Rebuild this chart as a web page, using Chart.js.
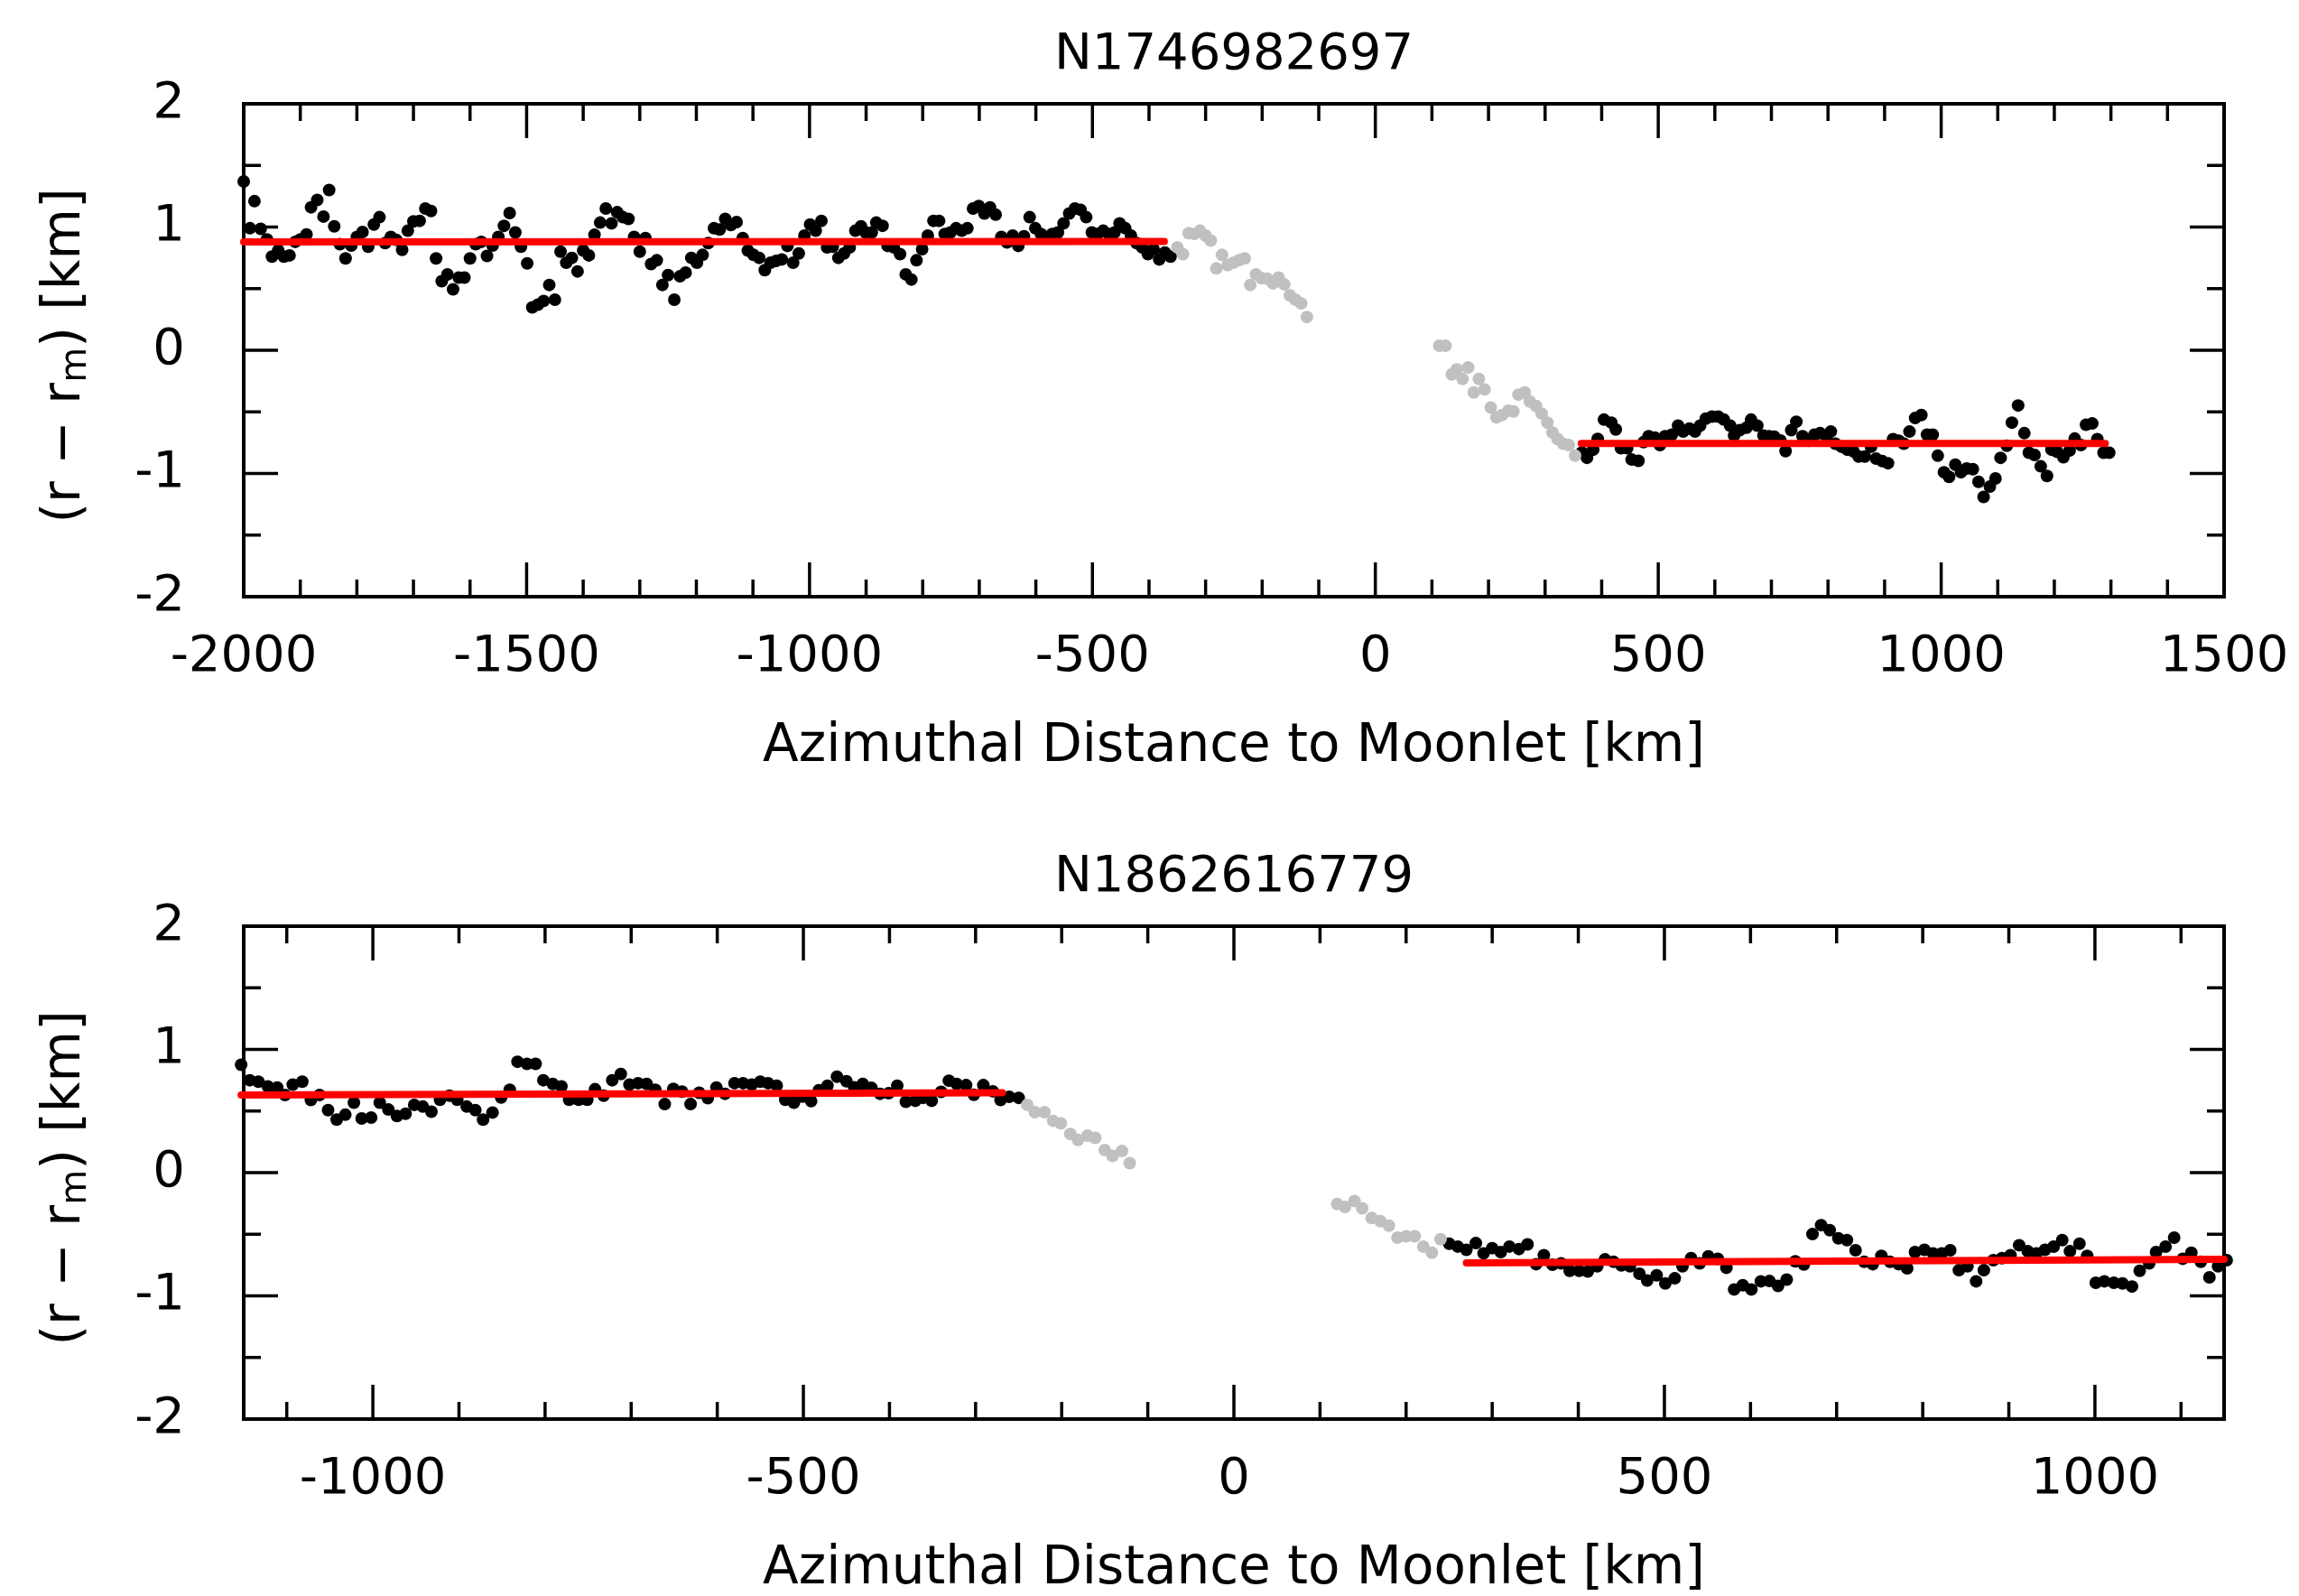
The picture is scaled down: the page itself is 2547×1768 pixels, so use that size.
<!DOCTYPE html>
<html>
<head>
<meta charset="utf-8">
<title>Radial offset vs azimuthal distance to moonlet</title>
<script src="https://cdn.jsdelivr.net/npm/chart.js@4.4.1/dist/chart.umd.min.js"></script>
<style>
  html, body { margin: 0; padding: 0; background: #fff; }
  .panel { position: absolute; left: 0; width: 2547px; height: 857px; }
  #panelTop { top: 0; }
  #panelBottom { top: 911px; }
</style>
</head>
<body>
<div class="panel" id="panelTop"><canvas id="chartTop"></canvas></div>
<div class="panel" id="panelBottom"><canvas id="chartBottom"></canvas></div>
<script>
// ---- data: [azimuthal distance km, r - r_m km] ----

// N1746982697
const topTitle = 'N1746982697';
const topXTicks = [-2000, -1500, -1000, -500, 0, 500, 1000, 1500];
const topLeftPts = [
  [-2000,1.37],[-1989,0.99],[-1981,1.21],[-1970,0.985],[-1959,0.90],[-1950,0.76],[-1939,0.81],[-1929,0.76],
  [-1919,0.77],[-1909,0.88],[-1900,0.90],[-1889,0.94],[-1881,1.16],[-1870,1.22],[-1859,1.085],[-1849,1.30],
  [-1840,1.005],[-1830,0.86],[-1820,0.745],[-1810,0.85],[-1800,0.92],[-1790,0.96],[-1780,0.84],[-1770,1.02],
  [-1760,1.08],[-1750,0.87],[-1740,0.92],[-1730,0.895],[-1720,0.815],[-1710,0.97],[-1700,1.046],[-1689,1.05],
  [-1679,1.15],[-1669,1.13],[-1660,0.745],[-1650,0.56],[-1640,0.615],[-1630,0.494],[-1620,0.59],[-1610,0.59],
  [-1600,0.745],[-1590,0.86],[-1580,0.88],[-1570,0.766],[-1560,0.85],[-1550,0.92],[-1540,1.01],[-1530,1.114],
  [-1520,0.956],[-1510,0.84],[-1499,0.705],[-1490,0.348],[-1480,0.37],[-1470,0.40],[-1460,0.53],[-1450,0.41],
  [-1440,0.80],[-1430,0.71],[-1420,0.75],[-1410,0.64],[-1400,0.81],[-1390,0.77],[-1380,0.937],[-1370,1.036],
  [-1360,1.15],[-1350,1.03],[-1340,1.12],[-1330,1.08],[-1320,1.066],[-1310,0.92],[-1300,0.80],[-1290,0.91],
  [-1280,0.70],[-1270,0.73],[-1260,0.53],[-1250,0.61],[-1239,0.41],[-1229,0.60],[-1219,0.63],[-1209,0.75],
  [-1199,0.71],[-1189,0.774],[-1179,0.87],[-1169,0.99],[-1159,0.98],[-1149,1.066],[-1139,1.017],[-1129,1.04],
  [-1118,0.91],[-1109,0.81],[-1099,0.774],[-1089,0.75],[-1079,0.65],[-1069,0.71],[-1059,0.725],[-1049,0.737],
  [-1039,0.847],[-1029,0.71],[-1019,0.786],[-1009,0.93],[-999,1.02],[-989,0.97],[-979,1.05],[-969,0.835],
  [-959,0.84],[-949,0.75],[-939,0.786],[-929,0.835],[-919,0.97],[-909,1.005],[-901,0.956],[-890,0.956],
  [-882,1.036],[-871,1.01],[-862,0.847],[-851,0.835],[-840,0.78],[-830,0.616],[-820,0.574],[-811,0.73],
  [-801,0.82],[-791,0.93],[-781,1.05],[-771,1.05],[-761,0.944],[-751,0.956],[-741,0.99],[-731,0.97],
  [-721,0.99],[-711,1.15],[-701,1.17],[-691,1.11],[-681,1.16],[-671,1.10],[-661,0.92],[-651,0.876],
  [-641,0.93],[-631,0.847],[-621,0.925],[-611,1.08],[-601,0.99],[-591,0.944],[-581,0.92],[-571,0.944],
  [-561,0.956],[-551,1.03],[-541,1.11],[-531,1.15],[-521,1.14],[-511,1.08],[-501,0.956],[-491,0.944],
  [-481,0.97],[-471,0.944],[-461,0.956],[-452,1.03],[-442,0.99],[-432,0.93],[-422,0.87],[-412,0.835],
  [-402,0.78],[-392,0.82],[-382,0.737],[-372,0.793],[-362,0.76]
];
const topGrayLeftPts = [
  [-350,0.835],[-340,0.78],[-330,0.95],[-320,0.944],[-310,0.97],[-300,0.93],[-291,0.89],[-281,0.664],
  [-271,0.774],[-261,0.69],[-251,0.71],[-241,0.73],[-231,0.745],[-221,0.53],[-211,0.616],[-201,0.584],
  [-191,0.58],[-181,0.543],[-171,0.59],[-161,0.535],[-151,0.445],[-141,0.41],[-131,0.38],[-121,0.27]
];
const topGrayRightPts = [
  [113,0.036],[124,0.036],[135,-0.196],[144,-0.155],[154,-0.233],[164,-0.14],[174,-0.343],[183,-0.233],
  [193,-0.318],[204,-0.465],[214,-0.545],[224,-0.526],[235,-0.49],[244,-0.496],[253,-0.36],[264,-0.343],
  [273,-0.416],[284,-0.452],[294,-0.514],[304,-0.587],[313,-0.667],[322,-0.72],[332,-0.758],[342,-0.77],
  [353,-0.855]
];
const topRightPts = [
  [365,-0.83],[374,-0.873],[385,-0.807],[393,-0.72],[404,-0.563],[417,-0.587],[425,-0.643],[434,-0.795],
  [445,-0.795],[453,-0.887],[465,-0.897],[474,-0.746],[483,-0.697],[494,-0.709],[503,-0.77],[512,-0.697],
  [524,-0.685],[535,-0.612],[544,-0.66],[555,-0.636],[565,-0.66],[574,-0.612],[584,-0.555],[595,-0.538],
  [606,-0.538],[616,-0.563],[627,-0.612],[634,-0.692],[644,-0.648],[656,-0.628],[664,-0.563],[675,-0.612],
  [686,-0.692],[696,-0.697],[705,-0.702],[716,-0.733],[725,-0.819],[735,-0.648],[744,-0.58],[755,-0.697],
  [765,-0.734],[776,-0.685],[786,-0.673],[797,-0.697],[805,-0.66],[813,-0.758],[824,-0.783],[834,-0.807],
  [845,-0.82],[854,-0.863],[865,-0.863],[876,-0.783],[885,-0.88],[896,-0.90],[906,-0.917],[915,-0.722],
  [925,-0.734],[934,-0.758],[944,-0.66],[954,-0.55],[965,-0.526],[975,-0.685],[985,-0.685],[994,-0.856],
  [1005,-0.99],[1014,-1.027],[1025,-0.929],[1035,-0.99],[1045,-0.96],[1056,-0.965],[1066,-1.068],[1075,-1.19],
  [1086,-1.107],[1096,-1.04],[1105,-0.873],[1116,-0.775],[1125,-0.587],[1136,-0.448],[1147,-0.673],[1155,-0.832],
  [1165,-0.85],[1176,-0.942],[1187,-1.02],[1195,-0.807],[1205,-0.824],[1216,-0.868],[1227,-0.814],[1236,-0.717],
  [1247,-0.77],[1256,-0.604],[1267,-0.594],[1276,-0.722],[1287,-0.832],[1297,-0.832]
];
const topFitLeft = [[-2000,0.88],[-373,0.882]];
const topFitRight = [[364,-0.757],[1290,-0.757]];

// N1862616779
const bottomTitle = 'N1862616779';
const bottomXTicks = [-1000, -500, 0, 500, 1000];
const bottomLeftPts = [
  [-1153,0.876],[-1143,0.75],[-1133,0.738],[-1122,0.70],[-1111,0.69],[-1102,0.63],[-1093,0.714],[-1082,0.738],
  [-1072,0.59],[-1062,0.63],[-1052,0.507],[-1042,0.43],[-1032,0.47],[-1022,0.568],[-1013,0.44],[-1002,0.447],
  [-992,0.568],[-982,0.512],[-972,0.459],[-962,0.478],[-952,0.55],[-942,0.536],[-932,0.495],[-922,0.592],
  [-911,0.624],[-902,0.592],[-891,0.536],[-881,0.507],[-872,0.43],[-861,0.488],[-851,0.61],[-841,0.672],
  [-832,0.90],[-821,0.883],[-811,0.883],[-802,0.75],[-791,0.72],[-781,0.70],[-772,0.592],[-761,0.592],
  [-751,0.592],[-742,0.677],[-732,0.624],[-722,0.75],[-712,0.80],[-702,0.714],[-692,0.726],[-682,0.72],
  [-672,0.672],[-661,0.556],[-651,0.68],[-641,0.658],[-631,0.556],[-621,0.648],[-611,0.604],[-601,0.69],
  [-591,0.64],[-580,0.726],[-570,0.726],[-560,0.714],[-550,0.738],[-541,0.726],[-531,0.706],[-521,0.592],
  [-511,0.568],[-501,0.617],[-491,0.58],[-482,0.668],[-472,0.705],[-461,0.778],[-450,0.742],[-441,0.693],
  [-431,0.72],[-421,0.688],[-411,0.64],[-401,0.644],[-391,0.705],[-381,0.575],[-370,0.583],[-361,0.607],
  [-351,0.583],[-340,0.656],[-331,0.746],[-322,0.72],[-311,0.71],[-302,0.632],[-291,0.71],[-280,0.66],
  [-271,0.59],[-261,0.615],[-250,0.607]
];
const bottomGrayLeftPts = [
  [-240,0.55],[-231,0.49],[-220,0.49],[-210,0.42],[-201,0.40],[-190,0.314],[-181,0.265],[-170,0.30],
  [-161,0.282],[-150,0.184],[-141,0.136],[-130,0.175],[-121,0.077]
];
const bottomGrayRightPts = [
  [120,-0.255],[129,-0.279],[140,-0.23],[149,-0.289],[160,-0.369],[170,-0.394],[180,-0.43],[190,-0.528],
  [200,-0.516],[210,-0.516],[220,-0.60],[230,-0.65],[240,-0.54]
];
const bottomRightPts = [
  [250,-0.577],[260,-0.60],[270,-0.626],[281,-0.572],[290,-0.655],[300,-0.613],[310,-0.645],[320,-0.60],
  [331,-0.62],[341,-0.582],[351,-0.743],[360,-0.67],[370,-0.748],[380,-0.736],[390,-0.797],[401,-0.797],
  [411,-0.802],[422,-0.76],[431,-0.704],[441,-0.724],[450,-0.753],[460,-0.76],[471,-0.82],[480,-0.875],
  [491,-0.833],[501,-0.90],[512,-0.858],[521,-0.76],[531,-0.694],[541,-0.736],[551,-0.68],[562,-0.70],
  [572,-0.772],[581,-0.948],[591,-0.914],[601,-0.948],[612,-0.882],[622,-0.88],[632,-0.919],[642,-0.868],
  [652,-0.72],[662,-0.745],[672,-0.499],[682,-0.426],[692,-0.467],[702,-0.533],[712,-0.548],[722,-0.63],
  [732,-0.724],[742,-0.743],[752,-0.675],[762,-0.724],[772,-0.743],[782,-0.777],[791,-0.645],[802,-0.626],
  [812,-0.655],[822,-0.655],[832,-0.63],[842,-0.792],[852,-0.76],[862,-0.882],[871,-0.792],[882,-0.711],
  [892,-0.694],[902,-0.67],[912,-0.589],[922,-0.638],[932,-0.655],[942,-0.626],[952,-0.601],[962,-0.548],
  [971,-0.638],[982,-0.577],[991,-0.675],[1001,-0.894],[1011,-0.882],[1022,-0.894],[1032,-0.899],[1043,-0.924],
  [1052,-0.797],[1063,-0.736],[1071,-0.645],[1082,-0.601],[1092,-0.528],[1102,-0.699],[1112,-0.65],[1123,-0.724],
  [1133,-0.85],[1143,-0.76],[1153,-0.711]
];
const bottomFitLeft = [[-1153,0.630],[-269,0.648]];
const bottomFitRight = [[270,-0.733],[1150,-0.703]];

const yTicks = [-2, -1, 0, 1, 2];

// ---- styling ----
const FONT = '"DejaVu Sans", sans-serif';
const BLACK = '#000000';
const GRAY = '#c0c0c0';
const RED = '#ff0000';

const toXY = pts => pts.map(p => ({ x: p[0], y: p[1] }));

function pointSet(pts, color, order) {
    return { type: 'scatter', data: toXY(pts), pointRadius: 7, pointHoverRadius: 7,
             pointBackgroundColor: color, pointBorderWidth: 0, clip: false, order: order };
}
function fitSet(pts) {
    return { type: 'line', data: toXY(pts), borderColor: RED, borderWidth: 8, borderCapStyle: 'round',
             pointRadius: 0, fill: false, clip: false, order: 0 };
}

// frame + inward major/minor ticks on all four sides, titles
const framePlugin = {
    id: 'frame',
    beforeDatasetsDraw(chart, args, opts) {
        const { ctx, chartArea: a, scales: { x, y } } = chart;
        ctx.save();
        ctx.strokeStyle = BLACK;
        ctx.lineWidth = 3.5;
        ctx.lineCap = 'butt';
        const tick = (px, py, dx, dy) => { ctx.beginPath(); ctx.moveTo(px, py); ctx.lineTo(px + dx, py + dy); ctx.stroke(); };
        for (let v = Math.ceil(x.min / 100) * 100; v <= x.max; v += 100) {
            const len = opts.xTicks.includes(v) ? 38 : 19;
            const px = x.getPixelForValue(v);
            tick(px, a.bottom, 0, -len);
            tick(px, a.top, 0, len);
        }
        for (let v = y.min; v <= y.max + 1e-9; v += 0.5) {
            const len = Number.isInteger(v) ? 38 : 19;
            const py = y.getPixelForValue(v);
            tick(a.left, py, len, 0);
            tick(a.right, py, -len, 0);
        }
        ctx.lineWidth = 4;
        ctx.strokeRect(a.left, a.top, a.right - a.left, a.bottom - a.top);
        ctx.restore();
    },
    afterDraw(chart, args, opts) {
        const { ctx, chartArea: a } = chart;
        const cx = (a.left + a.right) / 2;
        ctx.save();
        ctx.fillStyle = BLACK;
        ctx.textAlign = 'center';
        ctx.textBaseline = 'middle';
        ctx.font = `56px ${FONT}`;
        ctx.fillText(opts.title, cx, a.top - 54);
        ctx.font = `58px ${FONT}`;
        ctx.fillText('Azimuthal Distance to Moonlet [km]', cx, a.bottom + 167);

        // rotated y title with subscript m
        ctx.translate(73, (a.top + a.bottom) / 2 + 6);
        ctx.rotate(-Math.PI / 2);
        ctx.textAlign = 'left';
        const parts = [['(r \u2212 r', `58px ${FONT}`, 0], ['m', `40px ${FONT}`, 12], [') [km]', `58px ${FONT}`, 0]];
        let total = 0;
        parts.forEach(p => { ctx.font = p[1]; total += ctx.measureText(p[0]).width; });
        let tx = -total / 2;
        parts.forEach(p => { ctx.font = p[1]; ctx.fillText(p[0], tx, p[2]); tx += ctx.measureText(p[0]).width; });
        ctx.restore();
    }
};

function makeChart(id, cfg) {
    return new Chart(document.getElementById(id), {
        type: 'scatter',
        data: { datasets: [
            fitSet(cfg.fitLeft), fitSet(cfg.fitRight),
            pointSet(cfg.grayLeft, GRAY, 1), pointSet(cfg.grayRight, GRAY, 1),
            pointSet(cfg.left, BLACK, 2), pointSet(cfg.right, BLACK, 2)
        ] },
        options: {
            responsive: true,
            maintainAspectRatio: false,
            animation: false,
            events: [],
            layout: { padding: { top: 115, right: 83, left: 0, bottom: 0 } },
            plugins: { legend: { display: false }, tooltip: { enabled: false }, frame: { title: cfg.title, xTicks: cfg.xTicks } },
            scales: {
                x: {
                    type: 'linear', min: cfg.xMin, max: cfg.xMax,
                    grid: { display: false, drawTicks: false }, border: { display: false },
                    afterBuildTicks: s => { s.ticks = cfg.xTicks.map(v => ({ value: v })); },
                    // fixed box: keep edge labels from shrinking the plot area
                    afterFit: s => { s.height = 196; s.paddingLeft = 0; s.paddingRight = 0; },
                    ticks: { color: BLACK, font: { family: FONT, size: 56 }, padding: 34, maxRotation: 0, autoSkip: false, callback: v => String(v) }
                },
                y: {
                    type: 'linear', min: -2, max: 2,
                    grid: { display: false, drawTicks: false }, border: { display: false },
                    afterBuildTicks: s => { s.ticks = yTicks.map(v => ({ value: v })); },
                    afterFit: s => { s.width = 270; s.paddingTop = 0; s.paddingBottom = 0; },
                    ticks: { color: BLACK, font: { family: FONT, size: 56 }, padding: 65, autoSkip: false, callback: v => String(v) }
                }
            }
        },
        plugins: [framePlugin]
    });
}

makeChart('chartTop', {
    title: topTitle, xMin: -2000, xMax: 1500, xTicks: topXTicks,
    left: topLeftPts, right: topRightPts, grayLeft: topGrayLeftPts, grayRight: topGrayRightPts,
    fitLeft: topFitLeft, fitRight: topFitRight
});
makeChart('chartBottom', {
    title: bottomTitle, xMin: -1150, xMax: 1150, xTicks: bottomXTicks,
    left: bottomLeftPts, right: bottomRightPts, grayLeft: bottomGrayLeftPts, grayRight: bottomGrayRightPts,
    fitLeft: bottomFitLeft, fitRight: bottomFitRight
});
</script>
</body>
</html>
